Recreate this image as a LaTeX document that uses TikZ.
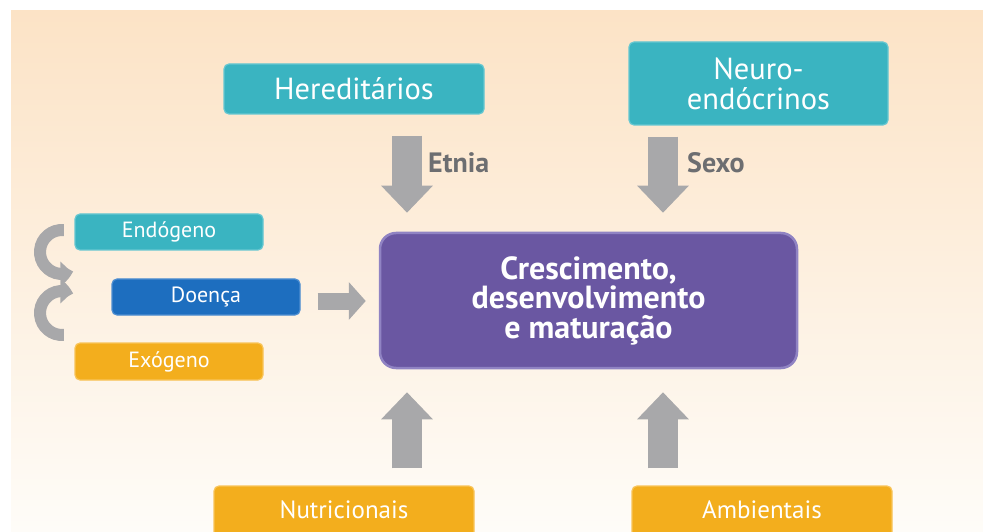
\documentclass[tikz,border=0pt]{standalone}
\usepackage{fontspec}
\setmainfont{PT Sans}
\usetikzlibrary{arrows.meta,bending,positioning,calc}

\definecolor{fundotopo}{HTML}{FCE3C6}
\definecolor{fundobase}{HTML}{FEFCF8}
\definecolor{turquesa}{HTML}{3AB4C1}
\definecolor{turquesaborda}{HTML}{66C7D1}
\definecolor{azul}{HTML}{1D6EBF}
\definecolor{azulborda}{HTML}{4D8ED1}
\definecolor{laranja}{HTML}{F3AE1D}
\definecolor{laranjaborda}{HTML}{F8C45A}
\definecolor{roxo}{HTML}{6A57A2}
\definecolor{roxoborda}{HTML}{9083C3}
\definecolor{cinzaseta}{HTML}{A8A8AA}
\definecolor{cinzatexto}{HTML}{6D6E71}

\begin{document}
\begin{tikzpicture}[x=1pt, y=1pt,
    caixa/.style={rectangle, rounded corners=5pt, line width=1.2pt, text=white,
      align=center, inner sep=0pt},
    ciano/.style={caixa, fill=turquesa, draw=turquesaborda},
    laranjado/.style={caixa, fill=laranja, draw=laranjaborda},
    grande/.style={font=\fontsize{30.5}{30}\selectfont},
    pequena/.style={font=\fontsize{22}{24}\selectfont},
    media/.style={font=\fontsize{25}{27}\selectfont},
    etiqueta/.style={text=cinzatexto, inner sep=0pt, anchor=west,
      font=\fontsize{28}{28}\selectfont\bfseries},
    setagrossa/.style={draw=cinzaseta, line width=30pt,
      -{Triangle[width=50pt, length=27pt]}},
    setamedia/.style={draw=cinzaseta, line width=17pt,
      -{Triangle[width=37pt, length=17pt]}},
    setacurva/.style={draw=cinzaseta, line width=12pt,
      -{Triangle[width=24pt, length=13pt, bend]}}
  ]
  \useasboundingbox (0,0) rectangle (983,531);
  % fundo
  \fill[top color=fundotopo, bottom color=fundobase] (11,0) rectangle (983,520);

  % caixas de cima
  \node[ciano, grande, minimum width=260pt, minimum height=50pt] (her) at (354,442) {Hereditários};
  \node[ciano, grande, minimum width=259pt, minimum height=83pt] (neuro) at (758.5,447.5) {Neuro-\\endócrinos};

  % caixa central
  \node[rectangle, rounded corners=16pt, fill=roxo, draw=roxoborda, line width=2.5pt,
    text=white, align=center, minimum width=417pt, minimum height=135pt,
    font=\fontsize{32}{29.5}\selectfont\bfseries] (main) at (588.5,230.5)
    {Crescimento,\\desenvolvimento\\e maturação};

  % caixas da esquerda
  \node[ciano, pequena, minimum width=188pt, minimum height=36pt] (endo) at (169,299) {Endógeno};
  \node[caixa, fill=azul, draw=azulborda, pequena, minimum width=188pt, minimum height=36pt] (doenca) at (206,234) {Doença};
  \node[laranjado, pequena, minimum width=188pt, minimum height=37pt] (exo) at (169,169.5) {Exógeno};

  % caixas de baixo
  \node[laranjado, media, minimum width=260pt, minimum height=60pt, text depth=0pt] (nutri) at (344,15) {\raisebox{12pt}{Nutricionais}};
  \node[laranjado, media, minimum width=260pt, minimum height=60pt, text depth=0pt] (ambi) at (762,15) {\raisebox{12pt}{Ambientais}};

  % setas
  \coordinate (colA) at (407,0);
  \coordinate (colB) at (663,0);
  \draw[setagrossa] ($(her.south -| colA)+(0,-21)$) -- ($(main.north -| colA)+(0,19)$);
  \draw[setagrossa] ($(neuro.south -| colB)+(0,-11)$) -- ($(main.north -| colB)+(0,19)$);
  \draw[setagrossa] ($(nutri.north -| colA)+(0,17)$) -- ($(main.south -| colA)+(0,-23)$);
  \draw[setagrossa] ($(ambi.north -| colB)+(0,17)$) -- ($(main.south -| colB)+(0,-23)$);
  \draw[setamedia] ($(doenca.east)+(17,-4)$) -- ($(main.west |- doenca.east)+(-13,-4)$);

  \node[etiqueta] (etnia) at ($(colA |- her.south)+(21,-48)$) {Etnia};
  \node[etiqueta] (sexo) at ($(colB |- neuro.south)+(24,-37)$) {Sexo};

  % setas curvas
  \coordinate (giro1) at (62,279);
  \coordinate (giro2) at (62,218);
  \draw[setacurva] ($(giro1)+(85:22)$) arc[start angle=85, end angle=300, radius=22];
  \draw[setacurva] ($(giro2)+(275:22)$) arc[start angle=275, end angle=60, radius=22];
\end{tikzpicture}
\end{document}
